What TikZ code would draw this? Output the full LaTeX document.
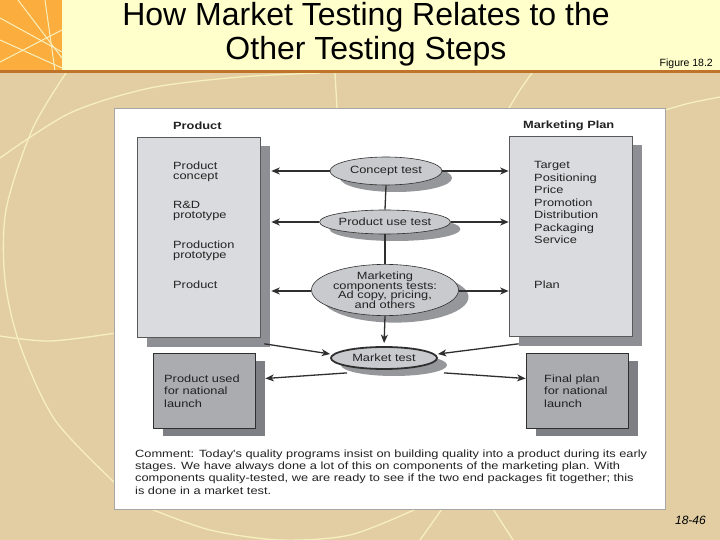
\documentclass[tikz,border=0pt]{standalone}
\usepackage{fontspec}
\setmainfont{Liberation Sans}
\newfontfamily\dg[FakeStretch=1.22]{Liberation Sans}
\usetikzlibrary{shapes.geometric,arrows.meta,shadows}
\definecolor{tanbg}{HTML}{E2CEA2}
\definecolor{topyel}{HTML}{FFFFCC}
\definecolor{orng}{HTML}{FBAE3E}
\definecolor{brownln}{HTML}{C0732A}
\definecolor{palecv}{HTML}{F7F0BE}
\definecolor{bigfill}{HTML}{DADBDE}
\definecolor{bigshad}{HTML}{8E8F94}
\definecolor{elfill}{HTML}{C9CACD}
\definecolor{elshad}{HTML}{96979B}
\definecolor{lowfill}{HTML}{ABACB0}
\definecolor{lowshad}{HTML}{7E7F84}
\definecolor{linec}{HTML}{2F2F2F}
\definecolor{txtc}{HTML}{222222}
\tikzset{
  dtext/.style={inner sep=0pt, font=\dg\fontsize{10.5}{10}\selectfont, text=txtc, align=left},
  bigbox/.style={draw=linec!80, line width=0.6pt, fill=bigfill, minimum width=123pt, minimum height=200pt,
     general shadow={fill=bigshad, shadow xshift=10pt, shadow yshift=-9pt}},
  lowbox/.style={draw=linec, line width=0.8pt, fill=lowfill, minimum width=102pt, minimum height=75pt,
     general shadow={fill=lowshad, shadow xshift=10pt, shadow yshift=-8pt}},
  testel/.style={ellipse, draw=linec, line width=0.6pt, fill=elfill, inner sep=0pt,
     font=\dg\fontsize{10.5}{9.5}\selectfont, text=txtc, align=center,
     general shadow={fill=elshad, shadow xshift=10pt, shadow yshift=-7pt}},
  arr/.style={-{Stealth[length=8.5pt,width=7pt,inset=2.5pt]}, line width=1.3pt, draw=linec},
  ln/.style={line width=1.3pt, draw=linec},
  pale/.style={draw=palecv, line width=1.3pt}
}
\begin{document}
\lineskiplimit=-10pt
\begin{tikzpicture}[x=1pt,y=-1pt]
\useasboundingbox (0,0) rectangle (720,540);
% background
\fill[tanbg] (0,0) rectangle (720,540);
\fill[topyel] (0,0) rectangle (720,71);
\fill[orng] (0,0) rectangle (62,71);
\begin{scope}
\clip (0,0) rectangle (62,71);
\draw[pale, line width=1pt] (0,18) -- (62,52);
\draw[pale, line width=1pt] (0,62) -- (62,30);
\draw[pale, line width=1pt] (18,0) -- (62,58);
\draw[pale, line width=1pt] (45,0) -- (55,71);
\draw[pale, line width=1pt] (0,40) -- (62,68);
\end{scope}
\draw[pale] plot[smooth] coordinates {(66,73) (32,130) (6,210) (5,280) (20,345) (55,420) (115,483)};
\draw[pale] plot[smooth] coordinates {(0,158) (70,113) (150,88) (240,77) (320,73)};
\draw[pale] plot[smooth] coordinates {(0,336) (50,341) (116,333)};
\draw[pale] (335,73) -- (337,108);
\draw[pale] plot[smooth] coordinates {(509,108) (520,90) (532,73)};
\draw[pale] plot[smooth] coordinates {(665,110) (690,103) (720,97)};
\draw[pale] plot[smooth] coordinates {(151,509) (210,530) (280,540) (350,535) (416,509)};
\draw[pale] (442,509) -- (420,540);
\draw[pale] (493,509) -- (513,540);
\fill[brownln] (0,70) rectangle (720,73.5);
% title
\node[font=\fontsize{32}{34.5}\selectfont, align=center, inner sep=0pt] (title) at (366,34)
  {How Market Testing Relates to the\\Other Testing Steps};
\node[font=\fontsize{10.5}{12}\selectfont, anchor=east, inner sep=0pt] (fig) at (713,64) {Figure 18.2};
\node[font=\fontsize{12}{14}\selectfont\itshape, anchor=east, inner sep=0pt] (pg) at (706,520) {18-46};
% panel
\draw[draw=gray!70, line width=0.8pt, fill=white] (114,108) rectangle (665,509);
% headers
\node[dtext, font=\dg\bfseries\fontsize{10.5}{10}\selectfont, anchor=mid west] (hprod) at (173,127) {Product};
\node[dtext, font=\dg\bfseries\fontsize{10.5}{10}\selectfont, anchor=mid west] (hmkt) at (523,126) {Marketing Plan};
% big boxes
\node[bigbox] (lbig) at (198.5,237.5) {};
\node[bigbox] (rbig) at (570.5,236.5) {};
% left texts
\node[dtext, anchor=north west] (t1) at (173,161.5) {Product\\concept};
\node[dtext, anchor=north west] (t2) at (173,201.5) {R\&D\\prototype};
\node[dtext, anchor=north west] (t3) at (173,240.5) {Production\\prototype};
\node[dtext, anchor=north west] (t4) at (173,280.5) {Product};
% right texts
\node[dtext, font=\dg\fontsize{10.5}{12.5}\selectfont, anchor=north west] (r1) at (534,161.5)
  {Target\\Positioning\\Price\\Promotion\\Distribution\\Packaging\\Service};
\node[dtext, anchor=north west] (r2) at (534,280.5) {Plan};
% ellipses
\node[testel, minimum width=112pt, minimum height=28pt] (concept) at (386,171) {Concept test};
\node[testel, minimum width=108pt, minimum height=24pt] (use) at (385,222) {Product use test};
\node[testel, minimum width=141pt, minimum height=50pt] (mkt) at (385,290)
  {Marketing\\components tests:\\Ad copy, pricing,\\and others};
\node[testel, line width=1.8pt, minimum width=106pt, minimum height=22pt] (market) at (384,358) {Market test};
% lower boxes
\node[lowbox] (lbox) at (204,390.5) {};
\node[lowbox] (rlow) at (577,390.5) {};
\node[dtext, font=\dg\fontsize{10.5}{12.5}\selectfont, anchor=north west] (lt) at (164,374.5)
  {Product used\\for national\\launch};
\node[dtext, font=\dg\fontsize{10.5}{12.5}\selectfont, anchor=north west] (rt) at (544,374.5)
  {Final plan\\for national\\launch};
% connectors
\draw[ln] (concept.south) -- (use.north);
\draw[ln] (use.south) -- (mkt.north);
\draw[arr, shorten >=3pt] (mkt.south) -- (market.north);
\draw[arr] (concept.west) -- ([xshift=11pt]lbig.east |- concept.west);
\draw[arr] (concept.east) -- (rbig.west |- concept.east);
\draw[arr] (use.west) -- ([xshift=11pt]lbig.east |- use.west);
\draw[arr] (use.east) -- (rbig.west |- use.east);
\draw[arr] ([yshift=-1pt]mkt.west) -- ([xshift=11pt,yshift=-1pt]lbig.east |- mkt.west);
\draw[arr] ([yshift=-1pt]mkt.east) -- ([yshift=-1pt]rbig.west |- mkt.east);
\draw[arr] ([shift={(4pt,-6pt)}]lbig.south east) -- ([yshift=4pt]market.west);
\draw[arr] ([shift={(10pt,-7pt)}]rbig.south west) -- ([yshift=4pt]market.east);
\draw[arr] ([xshift=-37pt,yshift=-3pt]market.south) -- ([shift={(10pt,12pt)}]lbox.east);
\draw[arr] ([xshift=60pt,yshift=-3pt]market.south) -- ([yshift=12pt]rlow.west);
% comment
\node[dtext, font=\dg\fontsize{10.5}{12.3}\selectfont, anchor=north west] (cm) at (135,449.5)
  {Comment: Today's quality programs insist on building quality into a product during its early\\
   stages. We have always done a lot of this on components of the marketing plan. With\\
   components quality-tested, we are ready to see if the two end packages fit together; this\\
   is done in a market test.};
\end{tikzpicture}
\end{document}
